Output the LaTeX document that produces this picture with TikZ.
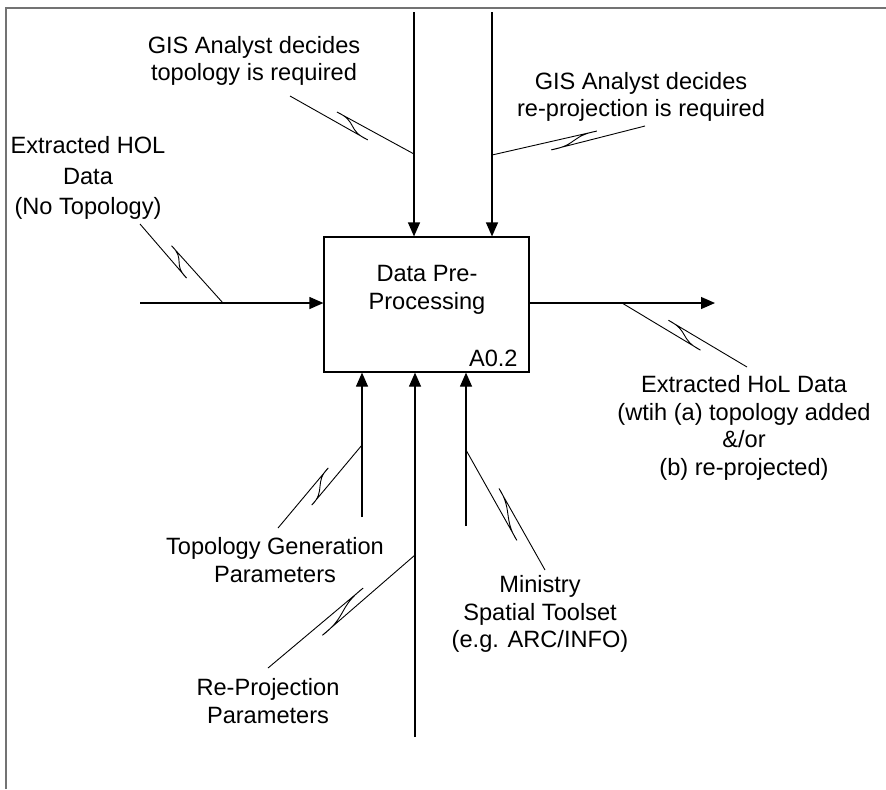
\documentclass[tikz,border=0pt]{standalone}
\usepackage{fontspec}
\setmainfont{Liberation Sans}
\usetikzlibrary{calc,arrows.meta,positioning}
\tikzset{
    % IDEF0 activity box
    actbox/.style={draw, line width=0.6pt, minimum width=102.5pt,
        minimum height=67.5pt, inner sep=0pt},
    % text of the arrows
    lbl/.style={align=center, inner sep=0pt,
        font=\fontsize{11.8}{13.8}\selectfont},
    % input, control, output and mechanism arrows
    icom/.style={line width=0.6pt, -{Triangle[length=7pt,width=6pt]}},
    % squiggle from a label to its arrow: {far tip}{offset}{near tip}{offset}
    squig/.style n args={4}{line width=0.45pt,
        to path={-- ($(\tikztostart)!#1!(\tikztotarget)!#2!90:(\tikztotarget)$)
                 .. controls ($(\tikztostart)!{#1-0.17}!(\tikztotarget)!#2!90:(\tikztotarget)$)
                 and ($(\tikztostart)!{#3+0.17}!(\tikztotarget)!#4!90:(\tikztotarget)$)
                 .. ($(\tikztostart)!#3!(\tikztotarget)!#4!90:(\tikztotarget)$)
                 -- (\tikztotarget)}},
}
\begin{document}
\begin{tikzpicture}[x=0.5pt,y=-0.5pt]
  \useasboundingbox (0,0) rectangle (886,789);
  % page frame
  \draw[black!55, line width=0.9pt] (6,789) -- (6,8) -- (886,8);

  % activity
  \node[actbox] (act) at (426.5,304.5) {};
  \node[lbl] (actname) at (427,290) {Data Pre-\\Processing};
  \node[lbl, anchor=base east] (actnum) at (518,366) {A0.2};

  % labels
  \node[lbl] (ctl1) at (254,61) {GIS Analyst decides\\topology is required};
  \node[lbl] (ctl2) at (641,97) {GIS Analyst decides\\re-projection is required};
  \node[lbl, font=\fontsize{11.8}{15.2}\selectfont] (inp) at (88,178)
    {Extracted HOL\\Data\\(No Topology)};
  \node[lbl] (outp) at (744,428) {Extracted HoL Data\\(wtih (a) topology added\\\&/or\\(b) re-projected)};
  \node[lbl] (mech1) at (275,560) {Topology Generation\\Parameters};
  \node[lbl] (mech2) at (268,701) {Re-Projection\\Parameters};
  \node[lbl] (mech3) at (540,614) {Ministry\\Spatial Toolset\\(e.g. ARC/INFO)};

  % arrow ends
  \coordinate (c1) at (414,12);
  \coordinate (c2) at (492,12);
  \coordinate (i1) at (140,303);
  \coordinate (o1) at (715,303);
  \coordinate (m1) at (362,517);
  \coordinate (m2) at (415,737);
  \coordinate (m3) at (466,526);

  \draw[icom] (c1) -- (c1 |- act.north);
  \draw[icom] (c2) -- (c2 |- act.north);
  \draw[icom] (i1) -- (i1 -| act.west);
  \draw[icom] (o1 -| act.east) -- (o1);
  \draw[icom] (m1) -- (m1 |- act.south);
  \draw[icom] (m2) -- (m2 |- act.south);
  \draw[icom] (m3) -- (m3 |- act.south);

  % squiggle ends
  \coordinate (s1a) at (290,96);  \coordinate (s1b) at (414,154);
  \coordinate (s2a) at (645,126); \coordinate (s2b) at (492,155);
  \coordinate (s3a) at (140,224); \coordinate (s3b) at (223,303);
  \coordinate (s4a) at (747,367); \coordinate (s4b) at (622,303);
  \coordinate (s5a) at (278,528); \coordinate (s5b) at (362,445);
  \coordinate (s6a) at (268,668); \coordinate (s6b) at (415,555);
  \coordinate (s7a) at (545,570); \coordinate (s7b) at (466,450);

  \draw[squig={0.65}{-3.4pt}{0.36}{2.7pt}] (s1a) to (s1b);
  \draw[squig={0.62}{3pt}{0.31}{-2pt}] (s2a) to (s2b);
  \draw[squig={0.62}{-3.5pt}{0.33}{3pt}] (s3a) to (s3b);
  \draw[squig={0.65}{-2.9pt}{0.35}{3.1pt}] (s4a) to (s4b);
  \draw[squig={0.66}{3.7pt}{0.34}{-3.7pt}] (s5a) to (s5b);
  \draw[squig={0.67}{2.7pt}{0.34}{-3.6pt}] (s6a) to (s6b);
  \draw[squig={0.65}{-3.2pt}{0.28}{3.6pt}] (s7a) to (s7b);
\end{tikzpicture}
\end{document}
